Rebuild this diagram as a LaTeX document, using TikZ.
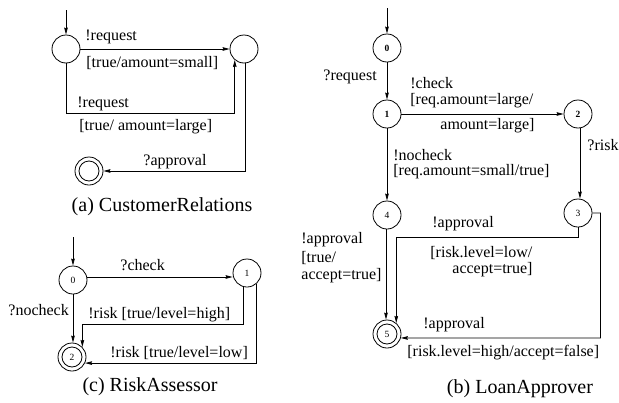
\documentclass[tikz,border=0pt]{standalone}
\usepackage{fontspec}
\setmainfont{Liberation Serif}
\usetikzlibrary{arrows.meta}
\begin{document}
\begin{tikzpicture}[x=1pt,y=-1pt,
  line width=0.8pt,
  >={Stealth[length=7pt,width=3.6pt,inset=0.8pt]},
  st/.style={circle,draw,minimum size=28pt,inner sep=0pt,font=\fontsize{9.5}{11}\selectfont},
  bst/.style={st,font=\fontsize{9.5}{11}\selectfont\bfseries},
  lbl/.style={anchor=west,inner sep=0pt,font=\fontsize{16}{18}\selectfont},
  captext/.style={inner sep=0pt,font=\fontsize{20}{22}\selectfont},
  conn/.style={->}]
\useasboundingbox (0,0) rectangle (619,402);
% ---------------- (a) CustomerRelations
\node[st] (a0) at (66,49) {};
\node[st] (a1) at (244,49) {};
\node[st] (af) at (89,171) {};
\draw (af.center) circle (10pt);
\coordinate (ainit) at (66,10);
\draw[conn] (ainit) -- (a0);
\draw[conn] (a0) -- (a1);
\draw[conn] (a0.south) -- (a0.south |- 0,113) -| (a1.-130);
\draw[conn] ([xshift=1pt]a1.south) |- (af.east);
\node[lbl] (la1) at (85,37) {!request};
\node[lbl] (la2) at (86,63) {[true/amount=small]};
\node[lbl] (la3) at (77,104) {!request};
\node[lbl] (la4) at (79,127) {[true/ amount=large]};
\node[lbl] (la5) at (143,162) {?approval};
\node[captext] (capa) at (162,207) {(a) CustomerRelations};
% ---------------- (c) RiskAssessor
\node[st] (c0) at (73,280) {0};
\node[st] (c1) at (247,273) {1};
\node[st] (c2) at (72,357) {2};
\draw (c2.center) circle (10pt);
\coordinate (cinit) at (73,237);
\draw[conn] (cinit) -- (c0);
\draw[conn] (c0.east |- 0,277) -- (c1.west |- 0,277);
\draw[conn] (c0) -- ([xshift=1pt]c2.north);
\draw[conn] ([xshift=-4pt]c1.south) -- ([xshift=-4pt]c1.south |- 0,324) -| (c2.44);
\draw[conn] (c1.-50) |- (c2.-25);
\node[lbl] (lc1) at (120,265) {?check};
\node[lbl] (lc2) at (8,310) {?nocheck};
\node[lbl] (lc3) at (88,315) {!risk [true/level=high]};
\node[lbl] (lc4) at (110,353) {!risk [true/level=low]};
\node[captext] (capc) at (150,387) {(c) RiskAssessor};
% ---------------- (b) LoanApprover
\node[bst] (b0) at (387,48) {0};
\node[bst] (b1) at (387,114) {1};
\node[bst] (b2) at (578,114) {2};
\node[st] (b3) at (578,213) {3};
\node[st] (b4) at (387,215) {4};
\node[st] (b5) at (387,334) {5};
\draw (b5.center) circle (10pt);
\coordinate (binit) at (387,8);
\draw[conn] (binit) -- (b0);
\draw[conn] (b0) -- (b1);
\draw[conn] (b1) -- (b2);
\draw[conn] (b1) -- (b4);
\draw[conn] ([xshift=2pt]b2.south) -- ([xshift=2pt]b3.north);
\draw[conn] ([xshift=-1pt]b4.south) -- ([xshift=-1pt]b5.north);
\draw[conn] (b3.south) -- (b3.south |- 0,237) -| (b5.50);
\draw[conn] (b3.east) -| (600.5,338) -- (b5.-16);
\node[lbl] (lb1) at (323,77) {?request};
\node[lbl] (lb2) at (410,83) {!check};
\node[lbl] (lb3) at (410,101) {[req.amount=large/};
\node[lbl] (lb4) at (440,126) {amount=large]};
\node[lbl] (lb5) at (587,145) {?risk};
\node[lbl] (lb6) at (393,155) {!nocheck};
\node[lbl] (lb7) at (393,172) {[req.amount=small/true]};
\node[lbl] (lb8) at (301,240) {!approval};
\node[lbl] (lb9) at (301,258) {[true/};
\node[lbl] (lb10) at (301,276) {accept=true]};
\node[lbl] (lb11) at (432,224) {!approval};
\node[lbl] (lb12) at (430,253) {[risk.level=low/};
\node[lbl] (lb13) at (452,270) {accept=true]};
\node[lbl] (lb14) at (423,325) {!approval};
\node[lbl] (lb15) at (407,353) {[risk.level=high/accept=false]};
\node[captext] (capb) at (520,389) {(b) LoanApprover};
\end{tikzpicture}
\end{document}
